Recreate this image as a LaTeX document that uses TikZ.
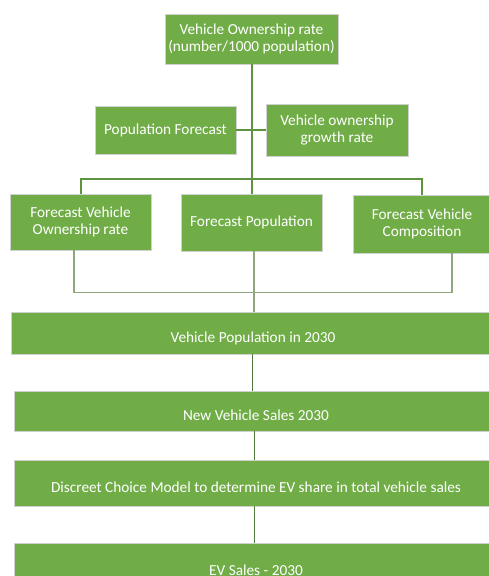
\documentclass[tikz,border=0pt]{standalone}
\usepackage{fontspec}
\setmainfont{Carlito}
\definecolor{boxgreen}{HTML}{70AD47}
\definecolor{linegreen}{HTML}{5E9440}
\definecolor{thingreen}{HTML}{8FA77F}
\definecolor{darkline}{HTML}{4F7A3A}
\begin{document}
\begin{tikzpicture}[x=1pt,y=-1pt,
  gbox/.style={rectangle, fill=boxgreen, draw=black!18, line width=0.8pt, text=white,
    inner sep=0pt, align=center, font=\fontsize{15.3}{17}\selectfont},
  widebox/.style={gbox, minimum width=484pt, text height=19pt, text depth=0pt},
  thickconn/.style={draw=linegreen, line width=2pt},
  thinconn/.style={draw=thingreen, line width=1.2pt},
  darkconn/.style={draw=darkline, line width=1pt}]
\path[use as bounding box, fill=white] (0,0) rectangle (489,576);

\node[gbox, minimum width=173pt, minimum height=50pt] (top) at (251.5,39) {Vehicle Ownership rate\\(number/1000 population)};
\node[gbox, minimum width=141pt, minimum height=48pt] (popf) at (165.5,130) {Population Forecast};
\node[gbox, minimum width=142pt, minimum height=52pt] (vogr) at (337,130) {Vehicle ownership\\growth rate};

\node[gbox, minimum width=141pt, minimum height=56pt] (fvor) at (80.5,222) {Forecast Vehicle\\Ownership rate};
\node[gbox, minimum width=141pt, minimum height=57pt] (fpop) at (251.5,222.5) {Forecast Population};
\node[gbox, minimum width=138pt, minimum height=58pt] (fvc) at (422,224) {Forecast Vehicle\\Composition};

\node[widebox, minimum height=42pt] (vp) at (253,333) {Vehicle Population in 2030};
\node[widebox, minimum height=40pt] (nvs) at (256,411) {New Vehicle Sales 2030};
\node[widebox, minimum height=46pt] (dcm) at (256,483) {Discreet Choice Model to determine EV share in total vehicle sales};
\node[widebox, minimum height=46pt] (ev) at (256,566) {EV Sales - 2030};

% upper connectors
\draw[thickconn] (top.south) -- (fpop.north);
\draw[thickconn] (popf.east) -- (vogr.west);
\draw[thickconn] (fvor.north) -- ++(0,-15) -| (fvc.north);

% lower connectors
\draw[thinconn] ([xshift=-6.5pt]fvor.south) -- ++(0,42) -| ([xshift=30pt]fvc.south);
\draw[thinconn] ([xshift=2.5pt]fpop.south) -- ([xshift=2.5pt]fpop.south |- vp.north);

% chain
\draw[darkconn] ([xshift=-1pt]vp.south) -- ([xshift=-1pt]vp.south |- nvs.north);
\draw[darkconn] ([xshift=-2pt]nvs.south) -- ([xshift=-2pt]nvs.south |- dcm.north);
\draw[darkconn] ([xshift=-2pt]dcm.south) -- ([xshift=-2pt]dcm.south |- ev.north);
\end{tikzpicture}
\end{document}
